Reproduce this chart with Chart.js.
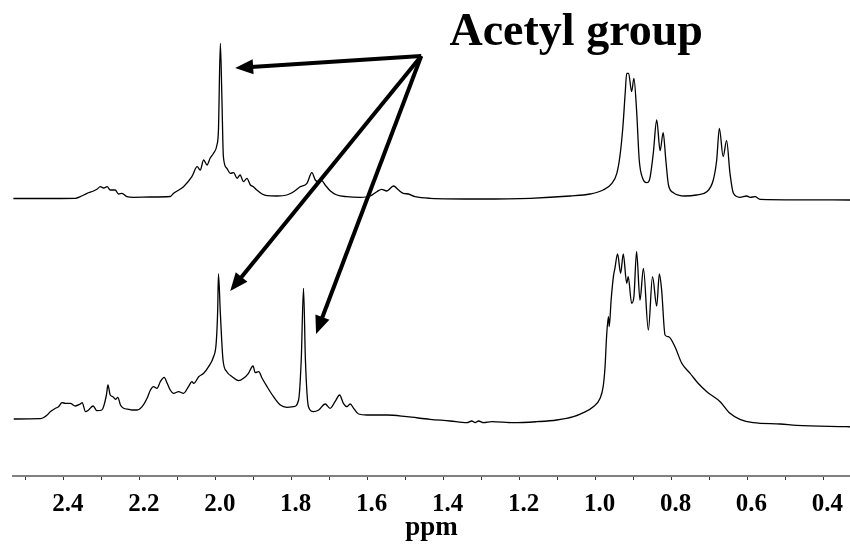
<!DOCTYPE html>
<html>
<head>
<meta charset="utf-8">
<script src="https://cdn.jsdelivr.net/npm/chart.js@4"></script>
<style>
  html, body { margin: 0; padding: 0; background: #fff; }
  canvas { display: block; }
</style>
</head>
<body>
<canvas id="nmrChart" width="850" height="547"></canvas>
<script>
// chemical shift (ppm) and intensity (a.u., stacked)
const topPpm = [2.533, 2.462, 2.370, 2.357, 2.339, 2.322, 2.313, 2.304, 2.295, 2.286, 2.278, 2.265, 2.256, 2.247, 2.234, 2.216, 2.172, 2.120, 2.111, 2.085,
  2.063, 2.049, 2.041, 2.032, 2.023, 2.015, 2.006, 1.997, 1.993, 1.988, 1.984, 1.980, 1.971, 1.962, 1.953, 1.944, 1.936, 1.927, 1.918, 1.909,
  1.901, 1.892, 1.878, 1.865, 1.839, 1.813, 1.795, 1.778, 1.760, 1.747, 1.738, 1.730, 1.721, 1.712, 1.699, 1.681, 1.655, 1.620, 1.593, 1.576,
  1.563, 1.550, 1.532, 1.519, 1.506, 1.493, 1.475, 1.436, 1.304, 1.172, 1.067, 1.015, 0.980, 0.957, 0.944, 0.936, 0.928, 0.922, 0.918, 0.913,
  0.905, 0.899, 0.892, 0.885, 0.876, 0.865, 0.857, 0.848, 0.839, 0.830, 0.822, 0.815, 0.808, 0.795, 0.765, 0.734, 0.707, 0.690, 0.681, 0.674,
  0.664, 0.655, 0.646, 0.637, 0.620, 0.602, 0.593, 0.580, 0.567, 0.462, 0.330];
const topIntensity = [277.5, 277.5, 277.7, 279.3, 282.7, 285, 286.7, 289.3, 288, 289.3, 286, 286, 282, 282.7, 279.3, 278.7, 279, 279.5, 282.7, 289.3,
  299.3, 309.3, 306, 316, 311, 317.7, 322.7, 331, 346, 432.7, 379.3, 319.3, 307.7, 302.7, 303.3, 297.7, 301, 294.3, 297.7, 291,
  289.3, 286, 282, 280.3, 280, 281, 284.3, 289.3, 292.7, 303.3, 296, 294.3, 295.3, 291, 285.3, 281, 279.3, 278.7, 280, 284.3,
  286.7, 285, 290, 286, 282.7, 282, 279.3, 277.7, 277, 277.7, 280, 282, 286, 292.7, 302.7, 319.3, 349.3, 382.7, 402.7, 402.7,
  384.3, 397.7, 366, 316, 297.7, 293.3, 297.7, 322.7, 356, 325.3, 343.3, 316, 291, 283.3, 280, 281, 284.3, 296, 316, 347.7,
  319.3, 335.3, 302.7, 282.7, 278.7, 280, 278.7, 279.3, 276.7, 276.2, 276];

const bottomPpm = [2.532, 2.462, 2.444, 2.436, 2.422, 2.414, 2.405, 2.396, 2.383, 2.370, 2.357, 2.352, 2.343, 2.335, 2.323, 2.313, 2.300, 2.288, 2.284, 2.278,
  2.271, 2.264, 2.258, 2.251, 2.243, 2.229, 2.221, 2.207, 2.194, 2.181, 2.172, 2.164, 2.155, 2.146, 2.136, 2.128, 2.120, 2.111, 2.098, 2.085,
  2.072, 2.063, 2.058, 2.045, 2.032, 2.019, 2.006, 1.999, 1.995, 1.993, 1.988, 1.981, 1.971, 1.957, 1.940, 1.927, 1.914, 1.902, 1.896, 1.887,
  1.878, 1.865, 1.848, 1.830, 1.813, 1.795, 1.782, 1.775, 1.769, 1.764, 1.756, 1.743, 1.729, 1.712, 1.699, 1.686, 1.674, 1.664, 1.655, 1.646,
  1.637, 1.624, 1.602, 1.549, 1.497, 1.436, 1.383, 1.339, 1.326, 1.317, 1.308, 1.295, 1.273, 1.216, 1.155, 1.102, 1.058, 1.032, 1.006, 0.988,
  0.980, 0.975, 0.971, 0.966, 0.964, 0.959, 0.953, 0.949, 0.942, 0.934, 0.927, 0.918, 0.914, 0.905, 0.899, 0.892, 0.883, 0.874, 0.861, 0.850,
  0.839, 0.832, 0.826, 0.817, 0.808, 0.791, 0.773, 0.751, 0.730, 0.707, 0.672, 0.646, 0.620, 0.585, 0.514, 0.471, 0.339, 0.330];
const bottomIntensity = [57, 57.3, 61, 64.3, 67.7, 69.3, 73.3, 72.7, 72.7, 70, 72, 73.3, 64.3, 66, 70, 65.3, 66, 81, 91, 81,
  79.3, 76.7, 78.7, 71, 67.7, 66.7, 66, 66, 69.3, 77.7, 86, 89.3, 87.7, 94.3, 98.7, 92.7, 86, 82.7, 84.3, 82.7,
  89.3, 94.3, 92.7, 99.3, 102.7, 109.3, 119.3, 132.7, 166, 202, 162.7, 116, 104.3, 99.3, 95.3, 97.7, 102.7, 110, 103.3, 104.3,
  97.7, 89.3, 79.3, 71, 68.7, 69.3, 76, 116, 187.7, 116, 69.3, 64.3, 66, 72, 67.7, 74.3, 81, 72.7, 69.3, 72,
  67.7, 62, 61, 61, 59.3, 56.7, 55, 53.3, 55, 53.3, 55, 53.3, 54.3, 53.3, 54.3, 56, 59.3, 63.3, 69.3, 77.7,
  89.3, 109.3, 139.3, 159.3, 149.3, 176, 199.3, 207.7, 222, 202.7, 222, 192.7, 199.3, 172.7, 179.3, 224.3, 176, 207.7, 146, 199.3,
  170, 202, 186, 141, 139.3, 129.3, 112.7, 102.7, 92.7, 84.3, 74.3, 62.7, 56.7, 53.3, 52, 50.7, 49.3, 49.2];

// axis ticks (ppm), labelled every 0.2
const tickValues = [2.5, 2.4, 2.3, 2.2, 2.1, 2.0, 1.9, 1.8, 1.7, 1.6, 1.5, 1.4, 1.3, 1.2, 1.1, 1.0, 0.9, 0.8, 0.7, 0.6, 0.5, 0.4];
const labelledTicks = [2.4, 2.2, 2.0, 1.8, 1.6, 1.4, 1.2, 1.0, 0.8, 0.6, 0.4];

// annotation: "Acetyl group" with arrows pointing at the acetyl peaks
const noteText = 'Acetyl group';
const notePos = [1.051, 431];          // ppm, intensity of text baseline centre
const arrowFrom = [1.459, 420];
const arrowToPpm = [1.949, 1.962, 1.736];
const arrowToIntensity = [408, 185, 142];

const toPoints = (xs, ys) => xs.map((x, i) => ({ x: x, y: ys[i] }));

// draws the label and arrows in data space
const arrowPlugin = {
  id: 'acetylArrows',
  afterDatasetsDraw(chart) {
    const { ctx } = chart;
    const xs = chart.scales.x, ys = chart.scales.y;
    const ox = xs.getPixelForValue(arrowFrom[0]);
    const oy = ys.getPixelForValue(arrowFrom[1]);
    ctx.save();
    ctx.strokeStyle = '#000';
    ctx.fillStyle = '#000';
    ctx.lineWidth = 4;
    ctx.lineCap = 'butt';
    arrowToPpm.forEach((p, i) => {
      const tx = xs.getPixelForValue(p);
      const ty = ys.getPixelForValue(arrowToIntensity[i]);
      const ang = Math.atan2(ty - oy, tx - ox);
      const headLen = 18, headHalf = 7.5;
      const bx = tx - headLen * Math.cos(ang);
      const by = ty - headLen * Math.sin(ang);
      ctx.beginPath();
      ctx.moveTo(ox, oy);
      ctx.lineTo(bx + 2 * Math.cos(ang), by + 2 * Math.sin(ang));
      ctx.stroke();
      ctx.beginPath();
      ctx.moveTo(tx, ty);
      ctx.lineTo(bx + headHalf * Math.sin(ang), by - headHalf * Math.cos(ang));
      ctx.lineTo(bx - headHalf * Math.sin(ang), by + headHalf * Math.cos(ang));
      ctx.closePath();
      ctx.fill();
    });
    ctx.font = 'bold 46px "Liberation Serif", "Times New Roman", serif';
    ctx.textAlign = 'center';
    ctx.textBaseline = 'alphabetic';
    ctx.fillText(noteText, xs.getPixelForValue(notePos[0]), ys.getPixelForValue(notePos[1]));
    ctx.restore();
  }
};

const ctx = document.getElementById('nmrChart').getContext('2d');
const nmrChart = new Chart(ctx, {
  type: 'line',
  data: {
    datasets: [
      {
        label: 'top',
        data: toPoints(topPpm, topIntensity),
        borderColor: '#000',
        borderWidth: 1.3,
        pointRadius: 0,
        cubicInterpolationMode: 'monotone',
        fill: false
      },
      {
        label: 'bottom',
        data: toPoints(bottomPpm, bottomIntensity),
        borderColor: '#000',
        borderWidth: 1.3,
        pointRadius: 0,
        cubicInterpolationMode: 'monotone',
        fill: false
      }
    ]
  },
  plugins: [arrowPlugin],
  options: {
    responsive: false,
    animation: false,
    layout: { padding: { left: 13, right: 0, top: 0, bottom: 0 } },
    plugins: {
      legend: { display: false },
      tooltip: { enabled: false }
    },
    scales: {
      x: {
        type: 'linear',
        reverse: true,
        min: 0.330,
        max: 2.534,
        afterBuildTicks: (scale) => {
          scale.ticks = tickValues.map(v => ({ value: v }));
        },
        afterFit: (scale) => {
          scale.height = 71;
        },
        border: { display: true, color: '#808080', width: 2 },
        grid: {
          drawOnChartArea: false,
          drawTicks: true,
          tickLength: 4,
          tickColor: '#333',
          tickWidth: 1
        },
        ticks: {
          autoSkip: false,
          maxRotation: 0,
          padding: 10,
          labelOffset: 4,
          color: '#000',
          font: { family: '"Liberation Serif", "Times New Roman", serif', size: 25, weight: 'bold' },
          callback: (v) => labelledTicks.some(t => Math.abs(t - v) < 1e-6) ? v.toFixed(1) : ''
        },
        title: {
          display: true,
          text: 'ppm',
          color: '#000',
          padding: { top: 0, bottom: 3 },
          font: { family: '"Liberation Serif", "Times New Roman", serif', size: 27, weight: 'bold' }
        }
      },
      y: {
        display: false,
        min: 0,
        max: 476
      }
    }
  }
});
</script>
</body>
</html>
